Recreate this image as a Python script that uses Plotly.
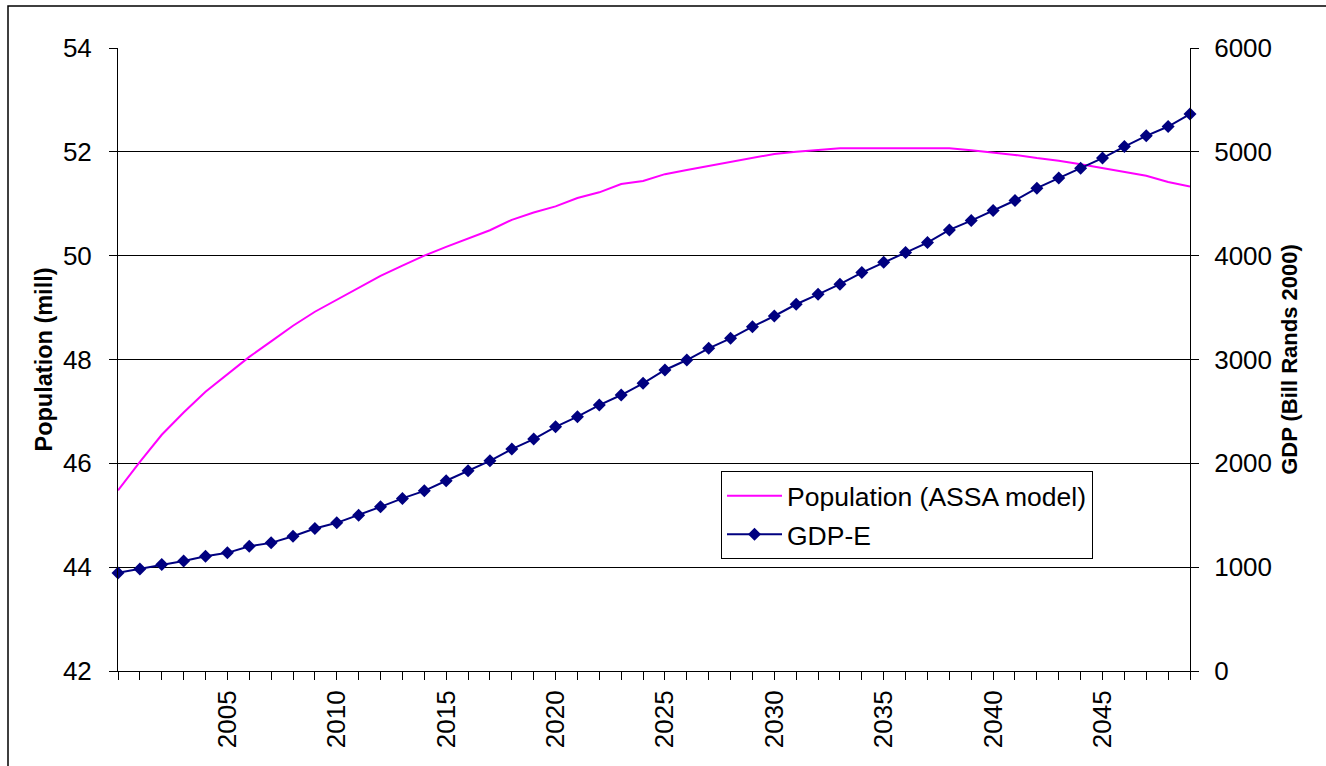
import plotly.graph_objects as go

# Years 2000-2049
years = list(range(2000, 2050))

# Population projection, millions (ASSA model)
population = [
    45.48, 46.03, 46.55, 46.98, 47.38, 47.72, 48.05, 48.35, 48.65, 48.92,
    49.15, 49.38, 49.61, 49.81, 50.00, 50.17, 50.33, 50.49, 50.69, 50.83,
    50.95, 51.11, 51.22, 51.38, 51.44, 51.57, 51.65, 51.73, 51.81, 51.89,
    51.96, 52.00, 52.04, 52.07, 52.07, 52.07, 52.07, 52.07, 52.07, 52.03,
    51.99, 51.94, 51.88, 51.83, 51.76, 51.69, 51.62, 51.54, 51.42, 51.33,
]

# GDP-E, billion Rands (2000 prices)
gdp = [
    945, 983, 1026, 1060, 1106, 1138, 1202, 1234, 1298, 1372,
    1427, 1501, 1581, 1662, 1735, 1832, 1928, 2024, 2137, 2234,
    2352, 2449, 2561, 2658, 2771, 2899, 2995, 3108, 3204, 3316,
    3419, 3532, 3628, 3725, 3837, 3937, 4030, 4126, 4248, 4338,
    4434, 4531, 4650, 4747, 4843, 4940, 5051, 5154, 5244, 5364,
]

# Only every fifth year is labelled, every year gets a tick mark
x_tick_text = [str(y) if (y % 5 == 0 and y != 2000) else "" for y in years]
pop_ticks = [42, 44, 46, 48, 50, 52, 54]
gdp_ticks = [0, 1000, 2000, 3000, 4000, 5000, 6000]

FONT = "Liberation Sans, Arial, sans-serif"
W, H = 1326, 766
ML, MR, MT, MB = 118, 136, 48, 95
PW, PH = W - ML - MR, H - MT - MB
TICK_SIZE = 26

fig = go.Figure()

fig.add_trace(go.Scatter(
    x=years, y=population, name="Population (ASSA model)",
    mode="lines", line=dict(color="#FF00FF", width=2),
    yaxis="y", legendgroup="a", cliponaxis=False,
))
fig.add_trace(go.Scatter(
    x=years, y=gdp, name="GDP-E",
    mode="lines+markers", line=dict(color="#000080", width=2),
    marker=dict(symbol="diamond", size=10, color="#000080"),
    yaxis="y2", legendgroup="b", cliponaxis=False,
))

# Outer chart frame (runs off the right and bottom edges)
def px_x(p):
    return (p - ML) / PW

def px_y(p):
    return (H - MB - p) / PH

fig.add_shape(type="rect", xref="paper", yref="paper",
              x0=px_x(8), x1=px_x(1340), y0=px_y(780), y1=px_y(6),
              line=dict(color="black", width=1.5), fillcolor="rgba(0,0,0,0)",
              layer="below")

fig.update_layout(
    width=W, height=H,
    margin=dict(l=ML, r=MR, t=MT, b=MB, autoexpand=False),
    paper_bgcolor="white", plot_bgcolor="white",
    font=dict(family=FONT, size=TICK_SIZE, color="black"),
    showlegend=True,
    legend=dict(
        x=px_x(721), y=px_y(471), xanchor="left", yanchor="top",
        bgcolor="white", bordercolor="black", borderwidth=1,
        font=dict(family=FONT, size=26.5, color="black"),
        itemwidth=55, tracegroupgap=1, traceorder="grouped",
    ),
    xaxis=dict(
        range=[2000, 2049], tickmode="array", tickvals=years, ticktext=x_tick_text,
        tickangle=-90, ticks="outside", ticklen=8, tickcolor="black",
        showline=True, linecolor="black", linewidth=1, showgrid=False,
        zeroline=False, ticklabelstandoff=0,
        tickfont=dict(family=FONT, size=TICK_SIZE),
    ),
    yaxis=dict(
        range=[42, 54], tickmode="array", tickvals=pop_ticks,
        ticks="outside", ticklen=8, tickcolor="black",
        showline=True, linecolor="black", linewidth=1,
        showgrid=True, gridcolor="black", gridwidth=1, zeroline=False,
        ticklabelstandoff=12, tickfont=dict(family=FONT, size=TICK_SIZE),
        title=dict(text="<b>Population (mill)</b>", standoff=3,
                   font=dict(family=FONT, size=23.5)),
    ),
    yaxis2=dict(
        range=[0, 6000], tickmode="array", tickvals=gdp_ticks,
        overlaying="y", side="right", anchor="x",
        ticks="outside", ticklen=8, tickcolor="black",
        showline=True, linecolor="black", linewidth=1,
        showgrid=False, zeroline=False,
        ticklabelstandoff=10, tickfont=dict(family=FONT, size=TICK_SIZE),
        title=dict(text="<b>GDP (Bill Rands 2000)</b>", standoff=10,
                   font=dict(family=FONT, size=22)),
    ),
)

fig.write_html("out.html")
